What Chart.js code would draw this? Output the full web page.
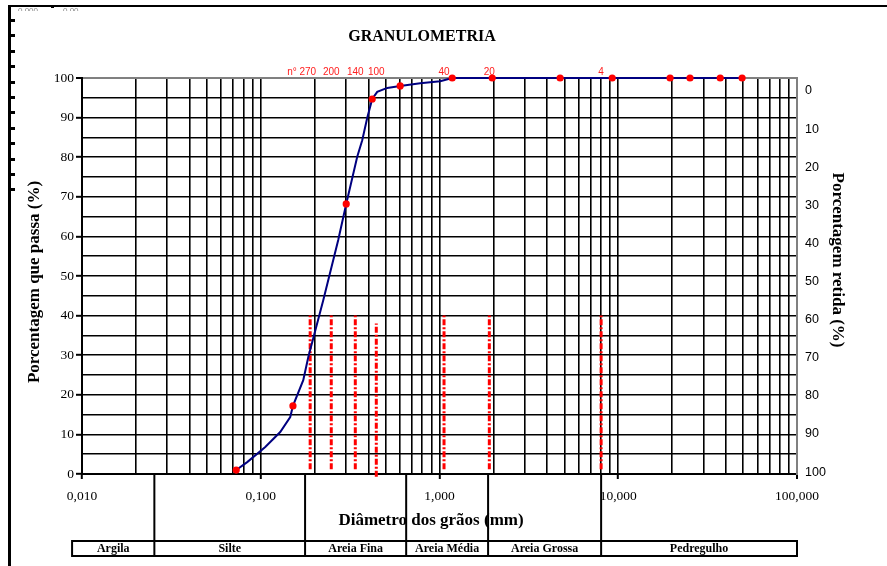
<!DOCTYPE html>
<html>
<head>
<meta charset="utf-8">
<script src="https://cdn.jsdelivr.net/npm/chart.js@4/dist/chart.umd.min.js"></script>
<style>
  body { margin: 0; background: #fff; }
  canvas { display: block; }
</style>
</head>
<body>
<canvas id="granulometria" width="887" height="566"></canvas>
<script>
// Curva granulometrica (diametro em mm, % que passa)
const CURVA_D = [0.0729, 0.084, 0.106, 0.1285, 0.1462, 0.1514, 0.1729, 0.1844, 0.2237, 0.2713, 0.3007, 0.3465, 0.3696, 0.394, 0.4204, 0.4484, 0.51, 0.6026, 0.78, 1.009, 1.178, 1.972, 4.73, 9.25, 19.5, 25.2, 37.2, 49.3];
const CURVA_P = [1.0, 3.0, 6.8, 10.6, 14.4, 17.2, 23.7, 29.5, 43.9, 59.1, 68.2, 80.1, 84.3, 89.9, 94.7, 96.5, 97.5, 98.0, 98.7, 99.2, 100, 100, 100, 100, 100, 100, 100, 100];

// Pontos ensaiados
const ENSAIO_D = [0.0729, 0.1514, 0.3007, 0.4204, 0.6026, 1.178, 1.972, 4.73, 9.25, 19.5, 25.2, 37.2, 49.3];
const ENSAIO_P = [1.0, 17.2, 68.2, 94.7, 98.0, 100, 100, 100, 100, 100, 100, 100, 100];

// Peneiras (linhas vermelhas tracejadas)
const PENEIRA_ROTULOS = ['n° 270', '200', '140', '100', '40', '20', '4'];
const PENEIRA_D = [0.189, 0.248, 0.338, 0.443, 1.06, 1.90, 8.02];
const PENEIRA_TOPO = [40, 40, 40, 38, 40, 40, 40];
const PENEIRA_BASE = [1.2, 1.2, 1.2, -0.7, 1.2, 1.2, 1.2];

// Classificacao
const CLASSES = ['Argila', 'Silte', 'Areia Fina', 'Areia Média', 'Areia Grossa', 'Pedregulho'];
const CLASSES_LIMITES = [0.0088, 0.0254, 0.177, 0.651, 1.87, 8.02, 100];

// Eixos
const PASSA_TICKS = [0, 5, 10, 15, 20, 25, 30, 35, 40, 45, 50, 55, 60, 65, 70, 75, 80, 85, 90, 95, 100];
const RETIDA_TICKS = [0, 10, 20, 30, 40, 50, 60, 70, 80, 90, 100];
const DECADAS = [0.01, 0.1, 1, 10, 100];

const SERIF = "'Liberation Serif', 'Times New Roman', serif";
const SANS = "'Liberation Sans', Arial, sans-serif";

function ehDecada(v) {
    const l = Math.log10(v);
    return Math.abs(l - Math.round(l)) < 1e-9;
}

const linhasPeneira = [];
PENEIRA_D.forEach((d, i) => {
    linhasPeneira.push({ x: d, y: PENEIRA_BASE[i] });
    linhasPeneira.push({ x: d, y: PENEIRA_TOPO[i] });
    linhasPeneira.push({ x: d, y: null });
});

const fundo = {
    id: 'fundo',
    beforeDraw(chart) {
        const c = chart.ctx;
        c.save();
        c.fillStyle = '#fff';
        c.fillRect(0, 0, chart.width, chart.height);
        c.restore();
    }
};

const textos = {
    id: 'textos',
    afterDraw(chart) {
        const c = chart.ctx;
        const xs = chart.scales.x;
        const area = chart.chartArea;
        c.save();

        // moldura da pagina
        c.save();
        c.beginPath();
        c.rect(0, 0, 887, 11);
        c.clip();
        c.fillStyle = '#888';
        c.font = '8px ' + SANS;
        c.textBaseline = 'top';
        c.fillText('0,000', 18, 7);
        c.fillText('0,00', 63, 7);
        c.restore();
        c.fillStyle = '#000';
        c.fillRect(8, 5, 879, 2);
        c.fillRect(8, 5, 3, 561);
        c.fillRect(51, 5, 3, 3);
        for (let y = 20; y <= 190; y += 15.4) {
            c.fillRect(10, Math.round(y) - 1, 5, 3);
        }

        // titulo
        c.fillStyle = '#000';
        c.textAlign = 'center';
        c.textBaseline = 'middle';
        c.font = 'bold 16px ' + SERIF;
        c.fillText('GRANULOMETRIA', 422, 37);

        c.font = 'bold 17px ' + SERIF;
        c.fillText('Diâmetro dos grãos (mm)', 431, 521);

        c.save();
        c.translate(35, 282);
        c.rotate(-Math.PI / 2);
        c.fillText('Porcentagem que passa (%)', 0, 0);
        c.restore();

        c.save();
        c.translate(837, 260);
        c.rotate(Math.PI / 2);
        c.fillText('Porcentagem retida (%)', 0, 0);
        c.restore();

        // rotulos das peneiras
        c.fillStyle = '#ff2020';
        c.font = '10px ' + SANS;
        PENEIRA_ROTULOS.forEach((r, i) => {
            const px = xs.getPixelForValue(PENEIRA_D[i]);
            if (i === 0) {
                c.textAlign = 'right';
                c.fillText(r, px + 6, 72);
            } else {
                c.textAlign = 'center';
                c.fillText(r, px, 72);
            }
        });

        // classificacao
        const topoTab = 541, baseTab = 556;
        c.strokeStyle = '#000';
        c.lineWidth = 2;
        const limPx = CLASSES_LIMITES.map(v => xs.getPixelForValue(v));
        c.beginPath();
        for (let i = 1; i < limPx.length - 1; i++) {
            c.moveTo(limPx[i], area.bottom);
            c.lineTo(limPx[i], topoTab);
        }
        c.stroke();
        c.strokeRect(limPx[0], topoTab, limPx[limPx.length - 1] - limPx[0], baseTab - topoTab);
        c.beginPath();
        for (let i = 1; i < limPx.length - 1; i++) {
            c.moveTo(limPx[i], topoTab);
            c.lineTo(limPx[i], baseTab);
        }
        c.stroke();
        c.fillStyle = '#000';
        c.textAlign = 'center';
        c.font = 'bold 12px ' + SERIF;
        CLASSES.forEach((nome, i) => {
            c.fillText(nome, (limPx[i] + limPx[i + 1]) / 2, 548.5);
        });

        c.restore();
    }
};

const ctx = document.getElementById('granulometria').getContext('2d');
const grafico = new Chart(ctx, {
    type: 'scatter',
    data: {
        datasets: [
            {
                label: 'Ensaio',
                data: ENSAIO_D.map((d, i) => ({ x: d, y: ENSAIO_P[i] })),
                showLine: false,
                pointRadius: 3.6,
                pointBackgroundColor: '#ff0000',
                pointBorderWidth: 0,
                clip: false
            },
            {
                label: 'Curva',
                data: CURVA_D.map((d, i) => ({ x: d, y: CURVA_P[i] })),
                showLine: true,
                borderColor: '#000080',
                borderWidth: 2,
                pointRadius: 0,
                tension: 0,
                clip: false
            },
            {
                label: 'Peneiras',
                data: linhasPeneira,
                showLine: true,
                spanGaps: false,
                borderColor: '#ff0000',
                borderWidth: 3,
                borderDash: [6, 2, 2, 2],
                pointRadius: 0,
                clip: false
            }
        ]
    },
    options: {
        responsive: false,
        animation: false,
        events: [],
        layout: { padding: { top: 78, left: 0, right: 0, bottom: 0 } },
        plugins: {
            legend: { display: false },
            tooltip: { enabled: false }
        },
        scales: {
            x: {
                type: 'logarithmic',
                position: 'bottom',
                min: 0.01,
                max: 100,
                afterBuildTicks(s) {
                    const t = [];
                    DECADAS.forEach((d, k) => {
                        if (k === DECADAS.length - 1) { t.push({ value: d }); return; }
                        for (let m = 1; m <= 9; m++) t.push({ value: +(d * m).toPrecision(6) });
                    });
                    s.ticks = t;
                },
                afterFit(s) { s.height = 92; },
                ticks: {
                    autoSkip: false,
                    maxRotation: 0,
                    padding: 9,
                    color: '#000',
                    font: { family: SERIF, size: 13.5 },
                    callback: v => ehDecada(v) ? v.toFixed(3).replace('.', ',') : ''
                },
                grid: {
                    color: c => (c.tick && c.tick.value === 100) ? '#808080' : '#000',
                    lineWidth: c => (c.tick && c.tick.value === 100) ? 2 : 1.6,
                    tickColor: c => (c.tick && ehDecada(c.tick.value)) ? '#000' : 'rgba(0,0,0,0)',
                    tickLength: 5,
                    tickWidth: 2
                },
                border: { color: '#000', width: 2 }
            },
            y: {
                position: 'left',
                min: 0,
                max: 100,
                afterBuildTicks(s) { s.ticks = PASSA_TICKS.map(v => ({ value: v })); },
                afterFit(s) { s.width = 82; },
                ticks: {
                    autoSkip: false,
                    padding: 2,
                    color: '#000',
                    font: { family: SERIF, size: 13.5 },
                    callback: v => v % 10 === 0 ? String(v) : ''
                },
                grid: {
                    color: c => (c.tick && c.tick.value === 100) ? '#808080' : '#000',
                    lineWidth: c => (c.tick && c.tick.value === 100) ? 2 : 1.6,
                    tickColor: c => (c.tick && c.tick.value % 10 === 0) ? '#000' : 'rgba(0,0,0,0)',
                    tickLength: 6,
                    tickWidth: 2
                },
                border: { color: '#000', width: 2 }
            },
            y2: {
                position: 'right',
                reverse: true,
                min: -3.4,
                max: 100.5,
                afterBuildTicks(s) { s.ticks = RETIDA_TICKS.map(v => ({ value: v })); },
                afterFit(s) { s.width = 90; },
                ticks: {
                    autoSkip: false,
                    padding: 8,
                    color: '#000',
                    font: { family: SANS, size: 12.5 }
                },
                grid: { drawOnChartArea: false, drawTicks: false },
                border: { color: '#808080', width: 2 }
            }
        }
    },
    plugins: [fundo, textos]
});
</script>
</body>
</html>
